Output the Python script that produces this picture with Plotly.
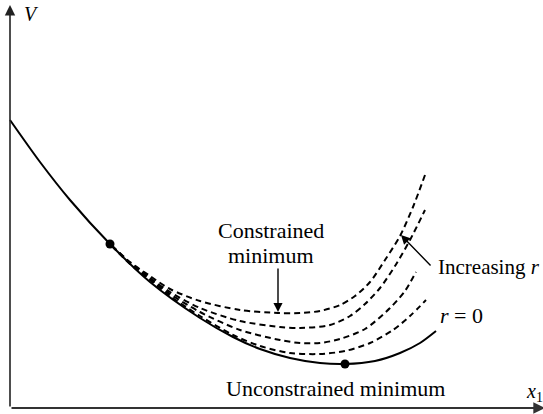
import plotly.graph_objects as go

# Objective V against design variable x1, plus penalised versions for growing r
x_base = [0, 30, 60, 100, 140, 190, 223, 250, 280, 310, 335, 365, 390, 410, 426]
v_base = [288, 246, 208, 164, 126, 90, 71, 59, 50, 45, 44, 47, 55, 65, 77]

x_pen1 = [102, 120, 140, 160, 190, 230, 268, 290, 310, 330, 345, 360, 375, 390, 403, 415]
v_pen1 = [162, 146, 132, 119, 107, 98, 95, 95, 97, 103, 112, 126, 148, 172, 201, 233]

x_pen2 = [102, 120, 140, 160, 190, 230, 270, 290, 320, 340, 355, 370, 385, 400, 415]
v_pen2 = [162, 145, 130, 116, 100, 87, 81, 80, 83, 92, 104, 120, 142, 168, 198]

x_pen3 = [102, 120, 140, 160, 190, 230, 270, 290, 310, 330, 355, 380, 395, 406]
v_pen3 = [162, 145, 129, 114, 96, 78, 68, 65, 65, 69, 79, 100, 117, 136]

x_pen4 = [102, 120, 140, 160, 190, 223, 250, 280, 310, 335, 360, 383, 400, 416]
v_pen4 = [162, 144, 128, 112, 92, 73, 62, 55, 54, 57, 65, 78, 92, 108]

# Marked points: constraint boundary and unconstrained optimum
x_points = [100, 335]
v_points = [164, 44]

SERIF = "Liberation Serif"
INK = "black"

fig = go.Figure()

for xs, vs in [(x_pen1, v_pen1), (x_pen2, v_pen2), (x_pen3, v_pen3), (x_pen4, v_pen4)]:
    fig.add_trace(go.Scatter(
        x=xs, y=vs, mode="lines",
        line=dict(color=INK, width=2, dash="6px,4px", shape="spline", smoothing=0.8),
        hoverinfo="skip", showlegend=False,
    ))

fig.add_trace(go.Scatter(
    x=x_base, y=v_base, mode="lines",
    line=dict(color=INK, width=2, shape="spline", smoothing=0.8),
    hoverinfo="skip", showlegend=False,
))

fig.add_trace(go.Scatter(
    x=x_points, y=v_points, mode="markers",
    marker=dict(color=INK, size=9),
    hoverinfo="skip", showlegend=False,
))

def arrow(tip, tail, width=1.5, head=2, size=1.2, color=INK):
    fig.add_annotation(
        x=tip[0], y=tip[1], ax=tail[0], ay=tail[1],
        xref="x", yref="y", axref="x", ayref="y",
        showarrow=True, arrowhead=head, arrowsize=size, arrowwidth=width,
        arrowcolor=color, standoff=0, startstandoff=0, text="",
    )

def label(x, y, text, anchor="center", size=22):
    fig.add_annotation(
        x=x, y=y, xref="x", yref="y", text=text, showarrow=False,
        xanchor=anchor, yanchor="middle",
        font=dict(family=SERIF, size=size, color=INK),
    )

# Coordinate axes with arrowheads
arrow((0, 403), (0, 0), width=1.6, head=2, size=1.3, color="#222222")
arrow((535, 0), (0, 0), width=1.8, head=2, size=1.3, color="#333333")

# Annotation arrows
arrow((268, 96), (268, 141), width=1.4, head=2, size=1.3)
arrow((391, 173), (422, 141), width=1.4, head=2, size=1.3)

label(261, 178, "Constrained")
label(261, 153, "minimum")
label(325, 20, "Unconstrained minimum")
label(426, 141, "Increasing <i>r</i>", anchor="left", size=21)
label(428, 93, "<i>r</i> = 0", anchor="left")
label(12, 394, "<i>V</i>", anchor="left", size=20)
label(514, 16, "<i>x</i><sub>1</sub>", anchor="left", size=20)

fig.update_xaxes(range=[-10, 533], visible=False, fixedrange=True)
fig.update_yaxes(range=[-6, 408], visible=False, fixedrange=True)
fig.update_layout(
    width=543, height=414,
    margin=dict(l=0, r=0, t=0, b=0),
    paper_bgcolor="white", plot_bgcolor="white",
)

fig.write_html("out.html")
